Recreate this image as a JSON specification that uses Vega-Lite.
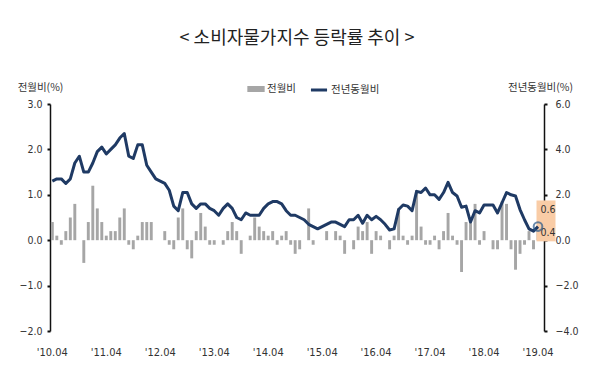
{
  "$schema": "https://vega.github.io/schema/vega-lite/v6.json",
  "width": 494,
  "height": 227,
  "autosize": {"type": "none"},
  "padding": {"left": 50, "top": 104, "right": 56, "bottom": 50},
  "background": "white",
  "title": {
    "text": "< 소비자물가지수 등락률 추이 >",
    "font": "Noto Sans CJK KR",
    "fontSize": 18,
    "fontWeight": "normal",
    "color": "#222222",
    "anchor": "middle",
    "offset": 32
  },
  "datasets": {
    "cpi": [
      {"m": "2010.04", "mom": 0.4, "yoy": 2.6},
      {"m": "2010.05", "mom": 0.1, "yoy": 2.7},
      {"m": "2010.06", "mom": -0.1, "yoy": 2.7},
      {"m": "2010.07", "mom": 0.2, "yoy": 2.5},
      {"m": "2010.08", "mom": 0.5, "yoy": 2.7},
      {"m": "2010.09", "mom": 0.8, "yoy": 3.4},
      {"m": "2010.10", "mom": 0.0, "yoy": 3.7},
      {"m": "2010.11", "mom": -0.5, "yoy": 3.0},
      {"m": "2010.12", "mom": 0.4, "yoy": 3.0},
      {"m": "2011.01", "mom": 1.2, "yoy": 3.4},
      {"m": "2011.02", "mom": 0.7, "yoy": 3.9},
      {"m": "2011.03", "mom": 0.4, "yoy": 4.1},
      {"m": "2011.04", "mom": 0.1, "yoy": 3.8},
      {"m": "2011.05", "mom": 0.2, "yoy": 4.0},
      {"m": "2011.06", "mom": 0.2, "yoy": 4.2},
      {"m": "2011.07", "mom": 0.5, "yoy": 4.5},
      {"m": "2011.08", "mom": 0.7, "yoy": 4.7},
      {"m": "2011.09", "mom": -0.1, "yoy": 3.7},
      {"m": "2011.10", "mom": -0.2, "yoy": 3.6},
      {"m": "2011.11", "mom": 0.1, "yoy": 4.2},
      {"m": "2011.12", "mom": 0.4, "yoy": 4.2},
      {"m": "2012.01", "mom": 0.4, "yoy": 3.3},
      {"m": "2012.02", "mom": 0.4, "yoy": 3.0},
      {"m": "2012.03", "mom": 0.0, "yoy": 2.7},
      {"m": "2012.04", "mom": 0.0, "yoy": 2.6},
      {"m": "2012.05", "mom": 0.2, "yoy": 2.5},
      {"m": "2012.06", "mom": -0.1, "yoy": 2.2},
      {"m": "2012.07", "mom": -0.2, "yoy": 1.5},
      {"m": "2012.08", "mom": 0.5, "yoy": 1.3},
      {"m": "2012.09", "mom": 0.7, "yoy": 2.1},
      {"m": "2012.10", "mom": -0.2, "yoy": 2.1},
      {"m": "2012.11", "mom": -0.4, "yoy": 1.6},
      {"m": "2012.12", "mom": 0.2, "yoy": 1.4},
      {"m": "2013.01", "mom": 0.6, "yoy": 1.6},
      {"m": "2013.02", "mom": 0.3, "yoy": 1.6},
      {"m": "2013.03", "mom": -0.1, "yoy": 1.4},
      {"m": "2013.04", "mom": -0.1, "yoy": 1.3},
      {"m": "2013.05", "mom": 0.0, "yoy": 1.1},
      {"m": "2013.06", "mom": -0.1, "yoy": 1.4},
      {"m": "2013.07", "mom": 0.2, "yoy": 1.6},
      {"m": "2013.08", "mom": 0.4, "yoy": 1.4},
      {"m": "2013.09", "mom": 0.2, "yoy": 1.0},
      {"m": "2013.10", "mom": -0.3, "yoy": 0.9},
      {"m": "2013.11", "mom": 0.0, "yoy": 1.2},
      {"m": "2013.12", "mom": 0.1, "yoy": 1.1},
      {"m": "2014.01", "mom": 0.5, "yoy": 1.1},
      {"m": "2014.02", "mom": 0.3, "yoy": 1.1},
      {"m": "2014.03", "mom": 0.2, "yoy": 1.4},
      {"m": "2014.04", "mom": 0.1, "yoy": 1.6},
      {"m": "2014.05", "mom": 0.2, "yoy": 1.7},
      {"m": "2014.06", "mom": -0.1, "yoy": 1.7},
      {"m": "2014.07", "mom": 0.1, "yoy": 1.6},
      {"m": "2014.08", "mom": 0.2, "yoy": 1.3},
      {"m": "2014.09", "mom": -0.1, "yoy": 1.1},
      {"m": "2014.10", "mom": -0.3, "yoy": 1.1},
      {"m": "2014.11", "mom": -0.2, "yoy": 1.0},
      {"m": "2014.12", "mom": 0.0, "yoy": 0.9},
      {"m": "2015.01", "mom": 0.7, "yoy": 0.7},
      {"m": "2015.02", "mom": -0.1, "yoy": 0.6},
      {"m": "2015.03", "mom": 0.0, "yoy": 0.5},
      {"m": "2015.04", "mom": 0.0, "yoy": 0.6},
      {"m": "2015.05", "mom": 0.2, "yoy": 0.7},
      {"m": "2015.06", "mom": 0.0, "yoy": 0.8},
      {"m": "2015.07", "mom": 0.2, "yoy": 0.8},
      {"m": "2015.08", "mom": 0.1, "yoy": 0.7},
      {"m": "2015.09", "mom": -0.3, "yoy": 0.6},
      {"m": "2015.10", "mom": 0.0, "yoy": 0.9},
      {"m": "2015.11", "mom": -0.2, "yoy": 0.9},
      {"m": "2015.12", "mom": 0.3, "yoy": 1.1},
      {"m": "2016.01", "mom": 0.2, "yoy": 0.75},
      {"m": "2016.02", "mom": 0.4, "yoy": 1.1},
      {"m": "2016.03", "mom": -0.3, "yoy": 0.9},
      {"m": "2016.04", "mom": 0.2, "yoy": 1.05},
      {"m": "2016.05", "mom": 0.1, "yoy": 0.9},
      {"m": "2016.06", "mom": 0.0, "yoy": 0.7},
      {"m": "2016.07", "mom": -0.2, "yoy": 0.45},
      {"m": "2016.08", "mom": 0.1, "yoy": 0.5},
      {"m": "2016.09", "mom": 0.7, "yoy": 1.35},
      {"m": "2016.10", "mom": 0.1, "yoy": 1.55},
      {"m": "2016.11", "mom": -0.1, "yoy": 1.5},
      {"m": "2016.12", "mom": 0.1, "yoy": 1.3},
      {"m": "2017.01", "mom": 1.1, "yoy": 2.15},
      {"m": "2017.02", "mom": 0.3, "yoy": 2.1},
      {"m": "2017.03", "mom": -0.1, "yoy": 2.3},
      {"m": "2017.04", "mom": -0.1, "yoy": 2.0},
      {"m": "2017.05", "mom": 0.1, "yoy": 2.0},
      {"m": "2017.06", "mom": -0.2, "yoy": 1.8},
      {"m": "2017.07", "mom": 0.2, "yoy": 2.1},
      {"m": "2017.08", "mom": 0.6, "yoy": 2.55},
      {"m": "2017.09", "mom": 0.1, "yoy": 2.1},
      {"m": "2017.10", "mom": -0.1, "yoy": 1.95},
      {"m": "2017.11", "mom": -0.7, "yoy": 1.45},
      {"m": "2017.12", "mom": 0.4, "yoy": 1.5},
      {"m": "2018.01", "mom": 0.4, "yoy": 0.8},
      {"m": "2018.02", "mom": 0.8, "yoy": 1.3},
      {"m": "2018.03", "mom": -0.1, "yoy": 1.2},
      {"m": "2018.04", "mom": 0.2, "yoy": 1.55},
      {"m": "2018.05", "mom": 0.0, "yoy": 1.55},
      {"m": "2018.06", "mom": -0.2, "yoy": 1.55},
      {"m": "2018.07", "mom": -0.2, "yoy": 1.2},
      {"m": "2018.08", "mom": 0.85, "yoy": 1.65},
      {"m": "2018.09", "mom": 0.8, "yoy": 2.1},
      {"m": "2018.10", "mom": -0.2, "yoy": 2.0},
      {"m": "2018.11", "mom": -0.65, "yoy": 1.95},
      {"m": "2018.12", "mom": -0.3, "yoy": 1.35},
      {"m": "2019.01", "mom": -0.1, "yoy": 0.9},
      {"m": "2019.02", "mom": 0.2, "yoy": 0.5},
      {"m": "2019.03", "mom": -0.2, "yoy": 0.4},
      {"m": "2019.04", "mom": 0.3, "yoy": 0.6}
    ],
    "box": [
      {"m": "2019.04", "top": 1.75, "bottom": -0.05}
    ],
    "notes": [
      {"m": "2019.04", "v": 1.35, "label": "0.6"},
      {"m": "2019.04", "v": 0.3, "label": "0.4"}
    ]
  },
  "encoding": {
    "x": {
      "field": "m",
      "type": "ordinal",
      "sort": null,
      "scale": {"type": "band", "paddingInner": 0.35, "paddingOuter": 0.6, "align": 0.16},
      "axis": {
        "orient": "bottom",
        "title": null,
        "values": ["2010.04", "2011.04", "2012.04", "2013.04", "2014.04", "2015.04", "2016.04", "2017.04", "2018.04", "2019.04"],
        "labelExpr": "\"'\" + slice(datum.value, 2)",
        "labelAngle": 0,
        "domain": false,
        "ticks": false,
        "grid": false,
        "labelPadding": 15,
        "labelFontSize": 11,
        "labelFont": "Liberation Sans Narrow, DejaVu Sans Condensed, sans-serif",
        "labelColor": "#333333"
      }
    }
  },
  "layer": [
    {
      "layer": [
        {
          "data": {"name": "cpi"},
          "mark": {"type": "bar"},
          "encoding": {
            "y": {
              "field": "mom",
              "type": "quantitative",
              "scale": {"domain": [-2, 3], "nice": false, "zero": false},
              "axis": {
                "orient": "left",
                "values": [-2, -1, 0, 1, 2, 3],
                "format": ".1f",
                "grid": false,
                "domainColor": "#111111",
                "domainWidth": 1.5,
                "tickColor": "#111111",
                "tickSize": 3,
                "tickWidth": 2,
                "labelPadding": 5,
                "labelFontSize": 10.5,
                "labelFont": "Liberation Sans Narrow, DejaVu Sans Condensed, sans-serif",
                "labelColor": "#333333",
                "title": "전월비(%)",
                "titleAngle": 0,
                "titleX": -10,
                "titleY": -17,
                "titleAlign": "center",
                "titleBaseline": "middle",
                "titleFont": "Noto Sans CJK KR",
                "titleFontSize": 10.5,
                "titleFontWeight": "normal",
                "titleColor": "#333333"
              }
            },
            "fill": {
              "datum": "전월비",
              "scale": {"range": ["#a6a6a6"]},
              "legend": {
                "orient": "none",
                "legendX": 197,
                "legendY": -24,
                "title": null,
                "padding": 0,
                "symbolType": "M-1,-0.35L1,-0.35L1,0.35L-1,0.35Z",
                "symbolSize": 300,
                "symbolStrokeWidth": 0,
                "labelFont": "Noto Sans CJK KR",
                "labelFontSize": 10.5,
                "labelColor": "#333333",
                "labelOffset": 2
              }
            }
          }
        },
        {
          "mark": {"type": "rule", "color": "#111111", "strokeWidth": 1.5},
          "encoding": {"y": {"datum": 0}}
        }
      ]
    },
    {
      "layer": [
        {
          "data": {"name": "box"},
          "mark": {"type": "bar", "width": 19, "xOffset": 8, "color": "#f9cca6"},
          "encoding": {
            "y": {"field": "top", "type": "quantitative"},
            "y2": {"field": "bottom"}
          }
        },
        {
          "data": {"name": "notes"},
          "mark": {"type": "text", "dx": 10, "fontSize": 10.5, "color": "#333333", "font": "Liberation Sans Narrow, DejaVu Sans Condensed, sans-serif"},
          "encoding": {
            "y": {"field": "v", "type": "quantitative"},
            "text": {"field": "label"}
          }
        },
        {
          "data": {"name": "cpi"},
          "mark": {"type": "line", "strokeWidth": 3, "strokeJoin": "round"},
          "encoding": {
            "y": {
              "field": "yoy",
              "type": "quantitative",
              "scale": {"domain": [-4, 6], "nice": false, "zero": false},
              "axis": {
                "orient": "right",
                "values": [-4, -2, 0, 2, 4, 6],
                "format": ".1f",
                "grid": false,
                "domainColor": "#111111",
                "domainWidth": 1.5,
                "tickColor": "#111111",
                "tickSize": 3,
                "tickWidth": 2,
                "labelPadding": 8,
                "labelFontSize": 10.5,
                "labelFont": "Liberation Sans Narrow, DejaVu Sans Condensed, sans-serif",
                "labelColor": "#333333",
                "title": "전년동월비(%)",
                "titleAngle": 0,
                "titleX": -4,
                "titleY": -17,
                "titleAlign": "center",
                "titleBaseline": "middle",
                "titleFont": "Noto Sans CJK KR",
                "titleFontSize": 10.5,
                "titleFontWeight": "normal",
                "titleColor": "#333333"
              }
            },
            "stroke": {
              "datum": "전년동월비",
              "scale": {"range": ["#1f3a64"]},
              "legend": {
                "orient": "none",
                "legendX": 259,
                "legendY": -24,
                "title": null,
                "padding": 0,
                "symbolType": "stroke",
                "symbolSize": 260,
                "symbolStrokeWidth": 3,
                "labelFont": "Noto Sans CJK KR",
                "labelFontSize": 10.5,
                "labelColor": "#333333",
                "labelOffset": 2
              }
            }
          }
        },
        {
          "data": {"name": "cpi"},
          "transform": [{"filter": "datum.m === '2019.04'"}],
          "mark": {"type": "point", "shape": "circle", "filled": false, "size": 75, "strokeWidth": 2, "color": "#2a5a8a"},
          "encoding": {
            "y": {"field": "yoy", "type": "quantitative"}
          }
        }
      ]
    }
  ],
  "resolve": {"scale": {"y": "independent"}},
  "config": {
    "view": {"stroke": null},
    "font": "Noto Sans CJK KR"
  }
}
